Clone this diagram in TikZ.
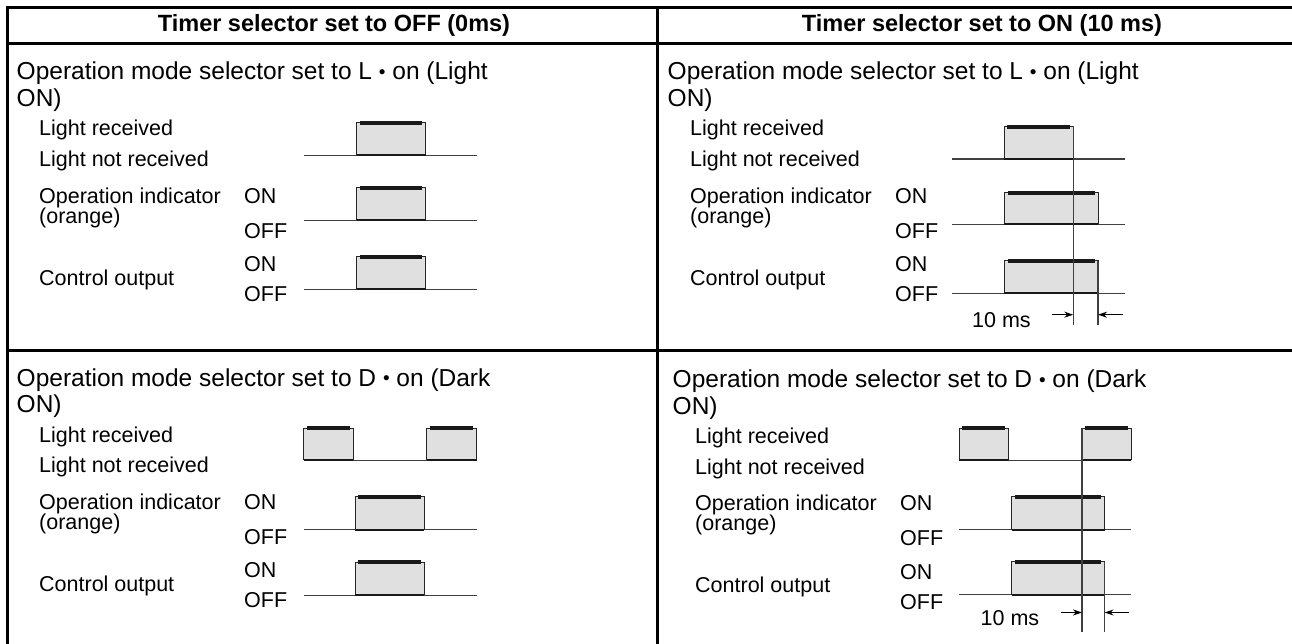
\documentclass[tikz,border=0pt]{standalone}
\usepackage{fontspec}
\setmainfont{Liberation Sans}
\usetikzlibrary{arrows.meta, positioning}

% small bullet as in the source
\newcommand{\smallbul}{\raisebox{1.5pt}{\fontsize{19}{19}\selectfont •}}

% one pulse: left x, right x, base y, top y
\newcommand{\sigpulse}[4]{%
  \fill[pulsefill] (#1,#3) rectangle (#2,#4);
  \draw[pulseedge] (#1,#3) -- (#1,#4) -- (#2,#4) -- (#2,#3);
  \draw[pulsebar] (#1+3.3,#4+0.3) -- (#2-3.3,#4+0.3);
  \draw[pulsebot] (#1,#3) -- (#2,#3);
}

% labels of one cell: shift x, shift y, id, mode title
\newcommand{\celllabels}[4]{%
  \begin{scope}[shift={(#1,#2)}]
    \node[ttl] (ttla#3) at (16.5,80) {Operation mode selector set to #4};
    \node[ttl] (ttlb#3) at (16.5,106.7) {ON)};
    \node[lbl] (lr#3) at (39,136) {Light received};
    \node[lbl] (lnr#3) at (39,166.7) {Light not received};
    \node[lbl] (oi#3) at (39,203.3) {Operation indicator};
    \node[lbl] (org#3) at (39,223.3) {(orange)};
    \node[lbl] (oion#3) at (244,203.3) {ON};
    \node[lbl] (oioff#3) at (244,238.3) {OFF};
    \node[lbl] (coon#3) at (244,271.7) {ON};
    \node[lbl] (co#3) at (39,285) {Control output};
    \node[lbl] (cooff#3) at (244,301.7) {OFF};
  \end{scope}
}

\begin{document}
\begin{tikzpicture}[
    x=1pt, y=-1pt,
    hdr/.style={font=\bfseries\fontsize{23.5}{28}\selectfont, anchor=base, inner sep=0pt},
    ttl/.style={font=\fontsize{24.5}{29}\selectfont, anchor=base west, inner sep=0pt},
    lbl/.style={font=\fontsize{21.5}{24}\selectfont, anchor=base west, inner sep=0pt},
    rule/.style={line width=3pt, black},
    baseln/.style={line width=1.2pt, black!75},
    pulsefill/.style={fill=black!12},
    pulseedge/.style={line width=1pt, black!85},
    pulsebar/.style={line width=4pt, black!90},
    pulsebot/.style={line width=1.8pt, black!90},
    timeln/.style={line width=1.2pt, black!75},
    dimarrow/.style={line width=1pt, black, -{Stealth[length=9pt,width=6pt]}}
]
    \useasboundingbox (0,0) rectangle (1292,644);

    % table rules
    \draw[rule, line join=miter] (1292,7.3) -- (7.3,7.3) -- (7.3,644);
    \draw[rule] (7.3,43.3) -- (1292,43.3);
    \draw[rule] (7.3,350.7) -- (1292,350.7);
    \draw[rule] (657,7.3) -- (657,644);

    % headers
    \node[hdr] (hdroff) at (334,32) {Timer selector set to OFF (0ms)};
    \node[hdr] (hdron) at (982,32) {Timer selector set to ON (10 ms)};

    % labels
    \celllabels{0}{0}{tl}{L \smallbul{} on (Light}
    \celllabels{651}{0}{tr}{L \smallbul{} on (Light}
    \celllabels{0}{306}{bl}{D \smallbul{} on (Dark}
    \celllabels{656}{307.5}{br}{D \smallbul{} on (Dark}

    % timer OFF, light ON
    \foreach \yb/\yt in {155.3/122.7, 220.3/187.7, 289.3/256.7} {
        \draw[baseln] (304.3,\yb) -- (477.3,\yb);
        \sigpulse{356.7}{425.7}{\yb}{\yt}
    }

    % timer ON, light ON
    \draw[baseln] (952,159) -- (1125,159);
    \sigpulse{1004}{1073.3}{159}{126.5}
    \foreach \yb/\yt in {224.3/192.3, 293.3/261} {
        \draw[baseln] (952,\yb) -- (1125,\yb);
        \sigpulse{1004.3}{1098}{\yb}{\yt}
    }
    \coordinate (tra) at (1073.3,126.5);
    \coordinate (trb) at (1073.3,325);
    \coordinate (trc) at (1098,261);
    \coordinate (trd) at (1098,325);
    \draw[timeln] (tra) -- (trb);
    \draw[timeln] (trc) -- (trd);
    \node[lbl] (mstr) at (972,327.7) {10 ms};
    \coordinate (trl) at (1052,314.7);
    \coordinate (trr) at (1122.7,314.7);
    \draw[dimarrow] (trl) -- (trl -| tra);
    \draw[dimarrow] (trr) -- (trr -| trc);

    % timer OFF, dark ON
    \draw[baseln] (303.7,460.3) -- (476.7,460.3);
    \sigpulse{303.7}{353}{460.3}{428}
    \sigpulse{426.5}{476.7}{460.3}{428}
    \foreach \yb/\yt in {529.7/496.3, 595.3/562} {
        \draw[baseln] (303.7,\yb) -- (476.7,\yb);
        \sigpulse{355}{424.4}{\yb}{\yt}
    }

    % timer ON, dark ON
    \draw[baseln] (959,460.3) -- (1131.4,460.3);
    \sigpulse{959}{1008.6}{460.3}{428}
    \sigpulse{1082}{1131.4}{460.3}{428}
    \foreach \yb/\yt in {529.7/496.3, 594.8/561.5} {
        \draw[baseln] (959,\yb) -- (1131.4,\yb);
        \sigpulse{1011.5}{1104.6}{\yb}{\yt}
    }
    \coordinate (bra) at (1082,428);
    \coordinate (brb) at (1082,632);
    \coordinate (brc) at (1104.6,561.5);
    \coordinate (brd) at (1104.6,632);
    \draw[timeln] (bra) -- (brb);
    \draw[timeln] (brc) -- (brd);
    \node[lbl] (msbr) at (980.5,625.5) {10 ms};
    \coordinate (brl) at (1061,612.5);
    \coordinate (brr) at (1129.3,612.5);
    \draw[dimarrow] (brl) -- (brl -| bra);
    \draw[dimarrow] (brr) -- (brr -| brc);
\end{tikzpicture}
\end{document}
